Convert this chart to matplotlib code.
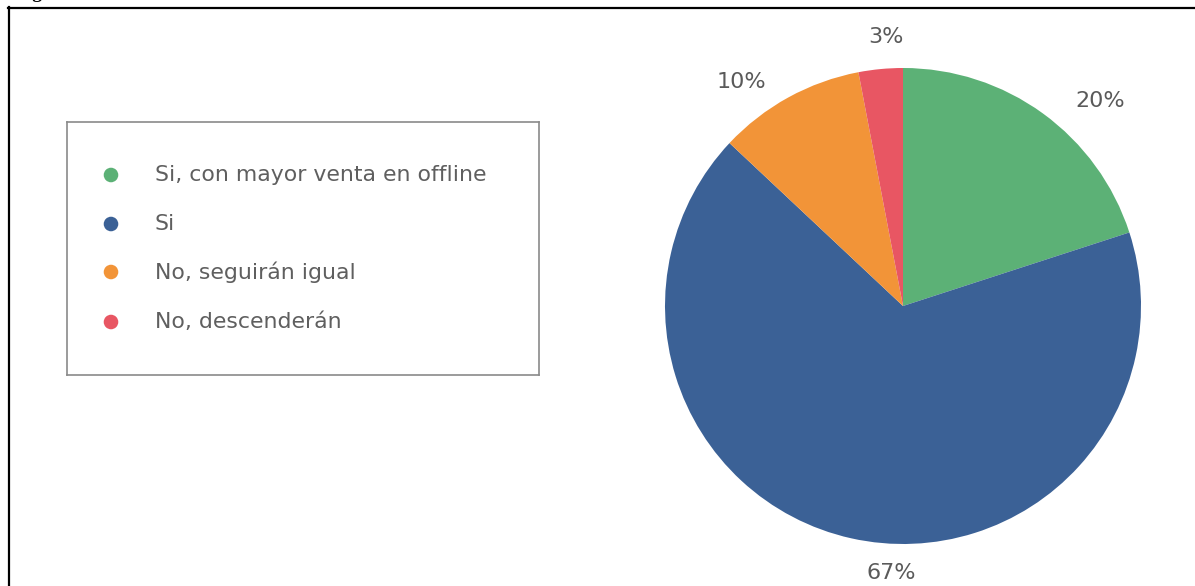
import matplotlib
matplotlib.use("Agg")
import matplotlib.pyplot as plt
from matplotlib.lines import Line2D

# respuestas de la encuesta (porcentaje)
categorias = ["Si, con mayor venta en offline", "Si", "No, seguirán igual", "No, descenderán"]
valores = [20, 67, 10, 3]
colores = ["#5cb176", "#3b6196", "#f29438", "#e85663"]

W, H = 1195, 586
plt.rcParams['font.family'] = ['DejaVu Sans']
fig = plt.figure(figsize=(W / 100, H / 100), dpi=100)
fig.patch.set_facecolor("white")


def px(x, y, w, h):
    # caja en pixeles (origen arriba a la izquierda) -> coordenadas de figura
    return [x / W, 1 - (y + h) / H, w / W, h / H]


# marco exterior de la figura (solo lados superior e izquierdo visibles)
fig.add_artist(Line2D([8.5 / W, 8.5 / W], [0, 1 - 7 / H], color="black", lw=1.6))
fig.add_artist(Line2D([8 / W, 1], [1 - 7.5 / H, 1 - 7.5 / H], color="black", lw=1.6))
fig.text(16 / W, 1 + 2 / H, "Figura", fontsize=14, fontweight="bold",
         family="Liberation Serif", va="baseline", ha="left")

# grafico de torta
R = 238
cx, cy = 903, 306
ax = fig.add_axes(px(cx - R, cy - R, 2 * R, 2 * R))
ax.pie(valores, colors=colores, startangle=90, counterclock=False,
       wedgeprops=dict(linewidth=0))
ax.set_xlim(-1, 1)
ax.set_ylim(-1, 1)
ax.set_aspect("equal")
ax.axis("off")

# posiciones de las etiquetas en unidades del radio
pos_etiquetas = [(0.83, 0.86), (-0.05, -1.12), (-0.68, 0.94), (-0.07, 1.13)]
for v, (lx, ly) in zip(valores, pos_etiquetas):
    ax.text(lx, ly, f"{v}%", ha="center", va="center", fontsize=16,
            color="#5a5a5a", clip_on=False)

# leyenda dibujada a mano
lx0, ly0, lw, lh = 67, 122, 472, 253
lg = fig.add_axes(px(lx0, ly0, lw, lh))
lg.set_xlim(0, lw)
lg.set_ylim(lh, 0)
lg.set_xticks([])
lg.set_yticks([])
for s in lg.spines.values():
    s.set_color("#8a8a8a")
    s.set_linewidth(1.2)
filas = [53, 102, 150, 200]
for cat, col, fy in zip(categorias, colores, filas):
    lg.scatter([44], [fy], s=110, color=col, edgecolors="none")
    lg.text(88, fy, cat, va="center", ha="left", fontsize=15.8, color="#5f5f5f")

fig.savefig("out.png", dpi=100, facecolor="white")
